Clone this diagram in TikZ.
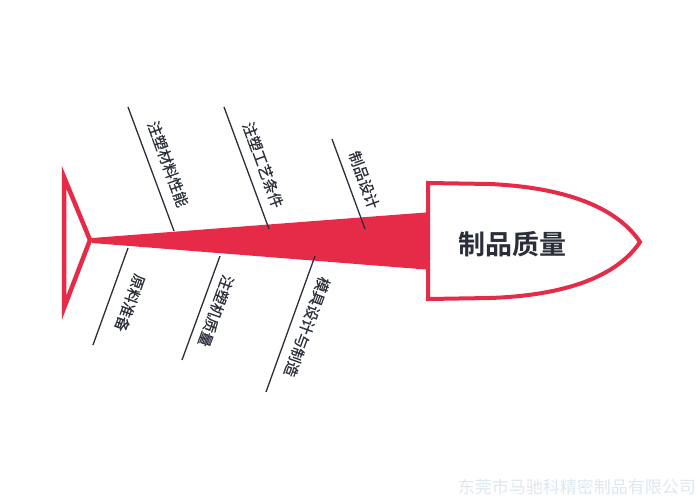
\documentclass[tikz,border=0pt]{standalone}
\usepackage{fontspec}
\newfontfamily\cjk{Noto Sans CJK SC}
\newfontfamily\cjkm[FakeBold=0.6]{Noto Sans CJK SC}
\newfontfamily\cjkb{Noto Sans CJK SC Bold}
\definecolor{fishred}{HTML}{E62B48}
\definecolor{ink}{HTML}{2A2E38}
\definecolor{wm}{HTML}{DCE7EF}
\begin{document}
\begin{tikzpicture}[x=1pt,y=-1pt,
  bone/.style={draw=ink,line width=1.3pt},
  lbl/.style={font=\cjkm\fontsize{15}{15}\selectfont,text=ink,inner sep=0pt},
  head/.style={font=\cjkb\fontsize{27}{27}\selectfont,text=ink,inner sep=0pt}]
\useasboundingbox (0,0) rectangle (700,500);
% body wedge
\fill[fishred] (92,238) -- (432,212) -- (432,270) -- (92,243) -- cycle;
% tail
\draw[fishred,line width=4.5pt,line join=miter] (64,177) -- (90,240) -- (64,308) -- cycle;
% head
\draw[fishred,fill=white,line width=4pt] (428,183) -- (490,184)
  .. controls (575,188) and (620,212) .. (640,242)
  .. controls (620,272) and (575,295) .. (490,298) -- (428,299) -- cycle;
\node[head] (q) at (512,244) {制品质量};
% top bones
\coordinate (t1a) at (128,107); \coordinate (t1b) at (174,231);
\coordinate (t2a) at (224,107); \coordinate (t2b) at (269,229);
\coordinate (t3a) at (332,139); \coordinate (t3b) at (365,229);
\draw[bone] (t1a) -- (t1b);
\draw[bone] (t2a) -- (t2b);
\draw[bone] (t3a) -- (t3b);
\node[lbl,rotate=-70] (l1) at (168,164) {注塑材料性能};
\node[lbl,rotate=-70] (l2) at (263,165) {注塑工艺条件};
\node[lbl,rotate=-70] (l3) at (364,180) {制品设计};
% bottom bones
\coordinate (b1a) at (128,248); \coordinate (b1b) at (93,345);
\coordinate (b2a) at (220,256); \coordinate (b2b) at (182,360);
\coordinate (b3a) at (315,256); \coordinate (b3b) at (266,392);
\draw[bone] (b1a) -- (b1b);
\draw[bone] (b2a) -- (b2b);
\draw[bone] (b3a) -- (b3b);
\node[lbl,rotate=-110] (l4) at (130,303) {原料准备};
\node[lbl,rotate=-110] (l5) at (216,311) {注塑机质量};
\node[lbl,rotate=-110] (l6) at (307,327) {模具设计与制造};
% watermark
\node[font=\cjk\fontsize{17}{17}\selectfont,text=wm,inner sep=0pt,anchor=east] (w) at (696,487) {东莞市马驰科精密制品有限公司};
\end{tikzpicture}
\end{document}
